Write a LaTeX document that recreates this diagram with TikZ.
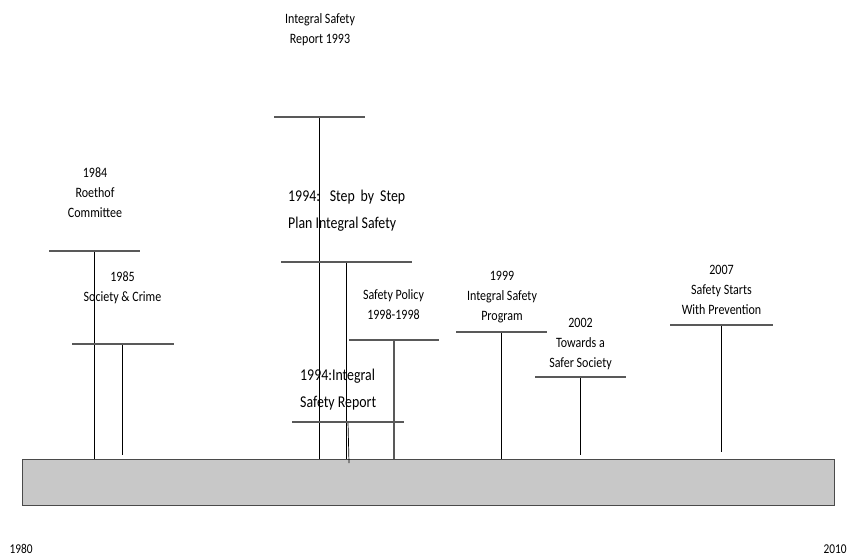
\documentclass[tikz,border=0pt]{standalone}
\usepackage{fontspec}
\setmainfont{Carlito}
\newfontfamily\narrowfont[FakeStretch=0.84]{Carlito}
\definecolor{linegray}{HTML}{595959}
\definecolor{bargray}{HTML}{C8C8C8}
\definecolor{bordergray}{HTML}{4A4A4A}
\begin{document}
\begin{tikzpicture}[x=1pt,y=-1pt,
  lbl/.style={font=\narrowfont\fontsize{14.3}{20}\selectfont, align=center, inner sep=0pt, anchor=base},
  big/.style={font=\narrowfont\fontsize{16.5}{27}\selectfont, align=left, inner sep=0pt, anchor=base west},
  yr/.style={font=\narrowfont\fontsize{13.5}{15}\selectfont, inner sep=0pt, anchor=base},
  hline/.style={draw=linegray, line width=1.6pt},
  vline/.style={draw=black, line width=0.9pt},
  gvline/.style={draw=linegray, line width=1.2pt},
]
\useasboundingbox (0,0) rectangle (848,558);

% time bar
\node[draw=bordergray, fill=bargray, line width=0.8pt, minimum width=812pt, minimum height=46pt, inner sep=0pt, anchor=north west] (bar) at (22,459) {};
\node[yr] (y1980) at (21,553) {1980};
\node[yr] (y2010) at (835,553) {2010};

% 1984
\coordinate (a84) at (49,251); \coordinate (b84) at (140,251);
\coordinate (s84) at (94.5,251); \coordinate (e84) at (94.5,459);
\node[lbl] (t84) at (95,217) {1984\\Roethof\\Committee};
% 1985
\coordinate (a85) at (72,344); \coordinate (b85) at (174,344);
\coordinate (s85) at (122.7,344); \coordinate (e85) at (122.7,455);
\node[lbl] (t85) at (122.5,301) {1985\\Society \& Crime};
% 1993
\coordinate (a93) at (274,117); \coordinate (b93) at (365,117);
\coordinate (s93) at (319.5,117); \coordinate (e93) at (319.5,459);
\node[lbl] (t93) at (320,43) {Integral Safety\\Report 1993};
% 1994 step by step
\coordinate (a94) at (281,262); \coordinate (b94) at (412,262);
\coordinate (s94) at (346.5,262); \coordinate (e94) at (346.5,459);
\node[big] (t94) at (288,228) {\makebox[117pt][s]{1994: Step by Step}\\Plan Integral Safety};
% 1994 integral safety report
\coordinate (a94b) at (292,422); \coordinate (b94b) at (404,422);
\coordinate (s94b) at (348,422); \coordinate (e94b) at (349,463);
\node[big] (t94b) at (300,407) {1994:Integral\\Safety Report};
% safety policy
\coordinate (asp) at (349,340); \coordinate (bsp) at (439,340);
\coordinate (ssp) at (394,340); \coordinate (esp) at (394,459);
\node[lbl] (tsp) at (393.5,319) {Safety Policy\\1998-1998};
% 1999
\coordinate (a99) at (456,332); \coordinate (b99) at (547,332);
\coordinate (s99) at (501.7,332); \coordinate (e99) at (501.7,459);
\node[lbl] (t99) at (502,320) {1999\\Integral Safety\\Program};
% 2002
\coordinate (a02) at (535,377); \coordinate (b02) at (626,377);
\coordinate (s02) at (580,377); \coordinate (e02) at (580,455);
\node[lbl] (t02) at (580.5,367) {2002\\Towards a\\Safer Society};
% 2007
\coordinate (a07) at (670,325); \coordinate (b07) at (773,325);
\coordinate (s07) at (721.7,325); \coordinate (e07) at (721.7,452);
\node[lbl] (t07) at (721.5,314) {2007\\Safety Starts\\With Prevention};

% stems
\draw[vline] (s84) -- (e84);
\draw[vline] (s85) -- (e85);
\draw[vline] (s93) -- (e93);
\draw[vline] (s94) -- (e94);
\draw[vline, line width=0.7pt] (s94b) -- (e94b);
\draw[gvline] (ssp) -- (esp);
\draw[vline] (s99) -- (e99);
\draw[vline] (s02) -- (e02);
\draw[vline] (s07) -- (e07);
% bars
\draw[hline] (a84) -- (b84);
\draw[hline] (a85) -- (b85);
\draw[hline] (a93) -- (b93);
\draw[hline] (a94) -- (b94);
\draw[hline] (a94b) -- (b94b);
\draw[hline] (asp) -- (bsp);
\draw[hline] (a99) -- (b99);
\draw[hline] (a02) -- (b02);
\draw[hline] (a07) -- (b07);
\end{tikzpicture}
\end{document}
